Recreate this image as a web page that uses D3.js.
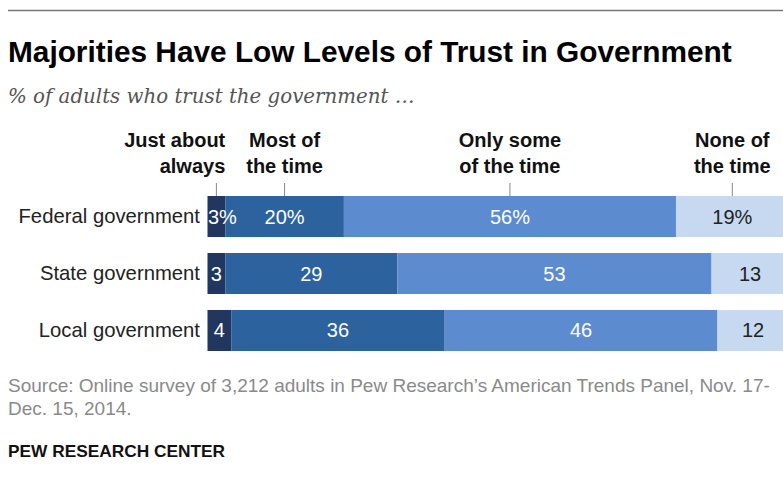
<!DOCTYPE html>
<html><head><meta charset="utf-8">
<script src="https://cdn.jsdelivr.net/npm/d3@7"></script>
<style>
html,body{margin:0;padding:0;background:#fff;overflow:hidden;}
svg{display:block;}
</style></head>
<body>
<script>
const categories = ["Federal government", "State government", "Local government"];
const seriesNames = ["Just about always", "Most of the time", "Only some of the time", "None of the time"];
const justAboutAlways = [3, 3, 4];
const mostOfTheTime = [20, 29, 36];
const onlySomeOfTheTime = [56, 53, 46];
const noneOfTheTime = [19, 13, 12];
const headerLines = [["Just about", "always"], ["Most of", "the time"], ["Only some", "of the time"], ["None of", "the time"]];
const title = "Majorities Have Low Levels of Trust in Government";
const subtitle = "% of adults who trust the government …";
const sourceLines = ["Source: Online survey of 3,212 adults in Pew Research’s American Trends Panel, Nov. 17-", "Dec. 15, 2014."];
const credit = "PEW RESEARCH CENTER";

const W = 783, H = 484;
const font = "'Liberation Sans', Arial, sans-serif";
const colors = ["#22375f", "#2c639e", "#5d8bcf", "#c6d9f0"];
const textColors = ["#fff", "#fff", "#fff", "#222"];

const svg = d3.select("body").append("svg").attr("width", W).attr("height", H);

svg.append("line").attr("x1", 8).attr("x2", W).attr("y1", 10.5).attr("y2", 10.5)
  .attr("stroke", "#777").attr("stroke-width", 1.3);

svg.append("text").attr("x", 8).attr("y", 62).text(title)
  .attr("font-family", font).attr("font-weight", "bold").attr("font-size", 29.8).attr("fill", "#000");
svg.append("text").attr("x", 8).attr("y", 103).text(subtitle)
  .attr("font-family", "'DejaVu Serif', Georgia, serif").attr("font-style", "italic")
  .attr("font-size", 19.8).attr("fill", "#555");

const series = [justAboutAlways, mostOfTheTime, onlySomeOfTheTime, noneOfTheTime];
const rows = categories.map((c, i) => {
  const r = {cat: c};
  seriesNames.forEach((s, j) => r[s] = series[j][i]);
  return r;
});
const stacked = d3.stack().keys(seriesNames)(rows);

const x = d3.scaleLinear().domain([0, 100]).range([207.5, 207.5 + 593]);
const y = d3.scaleBand().domain(categories).range([196, 351]).paddingInner(0.28).paddingOuter(0);

const g = svg.append("g");
stacked.forEach((layer, j) => {
  layer.forEach((d, i) => {
    const x0 = x(d[0]), x1 = x(d[1]);
    g.append("rect").attr("x", x0).attr("y", y(categories[i]))
      .attr("width", x1 - x0).attr("height", y.bandwidth())
      .attr("fill", colors[j]);
  });
});
stacked.forEach((layer, j) => {
  layer.forEach((d, i) => {
    const x0 = x(d[0]), x1 = x(d[1]);
    const v = d[1] - d[0];
    const lbl = i === 0 ? v + "%" : String(v);
    const t = g.append("text").attr("x", (x0 + x1) / 2).attr("y", y(categories[i]) + y.bandwidth() / 2 + 7)
      .attr("text-anchor", "middle").text(lbl)
      .attr("font-family", font).attr("font-size", 20).attr("fill", textColors[j]);
    const w = t.node().getComputedTextLength();
    if (w > x1 - x0) t.attr("x", x0 + 0.5).attr("text-anchor", "start");
  });
});

categories.forEach(c => {
  svg.append("text").attr("x", 200).attr("y", y(c) + y.bandwidth() / 2 + 6.5)
    .attr("text-anchor", "end").text(c)
    .attr("font-family", font).attr("font-size", 20.3).attr("fill", "#222");
});

// headers
stacked.forEach((layer, j) => {
  const d = layer[0];
  const cx = (x(d[0]) + x(d[1])) / 2;
  svg.append("line").attr("x1", cx).attr("x2", cx).attr("y1", 183).attr("y2", 196)
    .attr("stroke", "#888").attr("stroke-width", 1);
  const anchor = j === 0 ? "end" : "middle";
  const tx = j === 0 ? x(d[1]) : cx;
  headerLines[j].forEach((t, k) => {
    svg.append("text").attr("x", tx).attr("y", 147 + k * 26).attr("text-anchor", anchor).text(t)
      .attr("font-family", font).attr("font-weight", "bold").attr("font-size", 20).attr("fill", "#111");
  });
});

sourceLines.forEach((t, k) => {
  svg.append("text").attr("x", 8).attr("y", 392 + k * 23).text(t)
    .attr("font-family", font).attr("font-size", 19).attr("fill", "#8a8a8a");
});
svg.append("text").attr("x", 8).attr("y", 457).text(credit)
  .attr("font-family", font).attr("font-weight", "bold").attr("font-size", 17.3).attr("fill", "#111");
</script>
</body></html>
